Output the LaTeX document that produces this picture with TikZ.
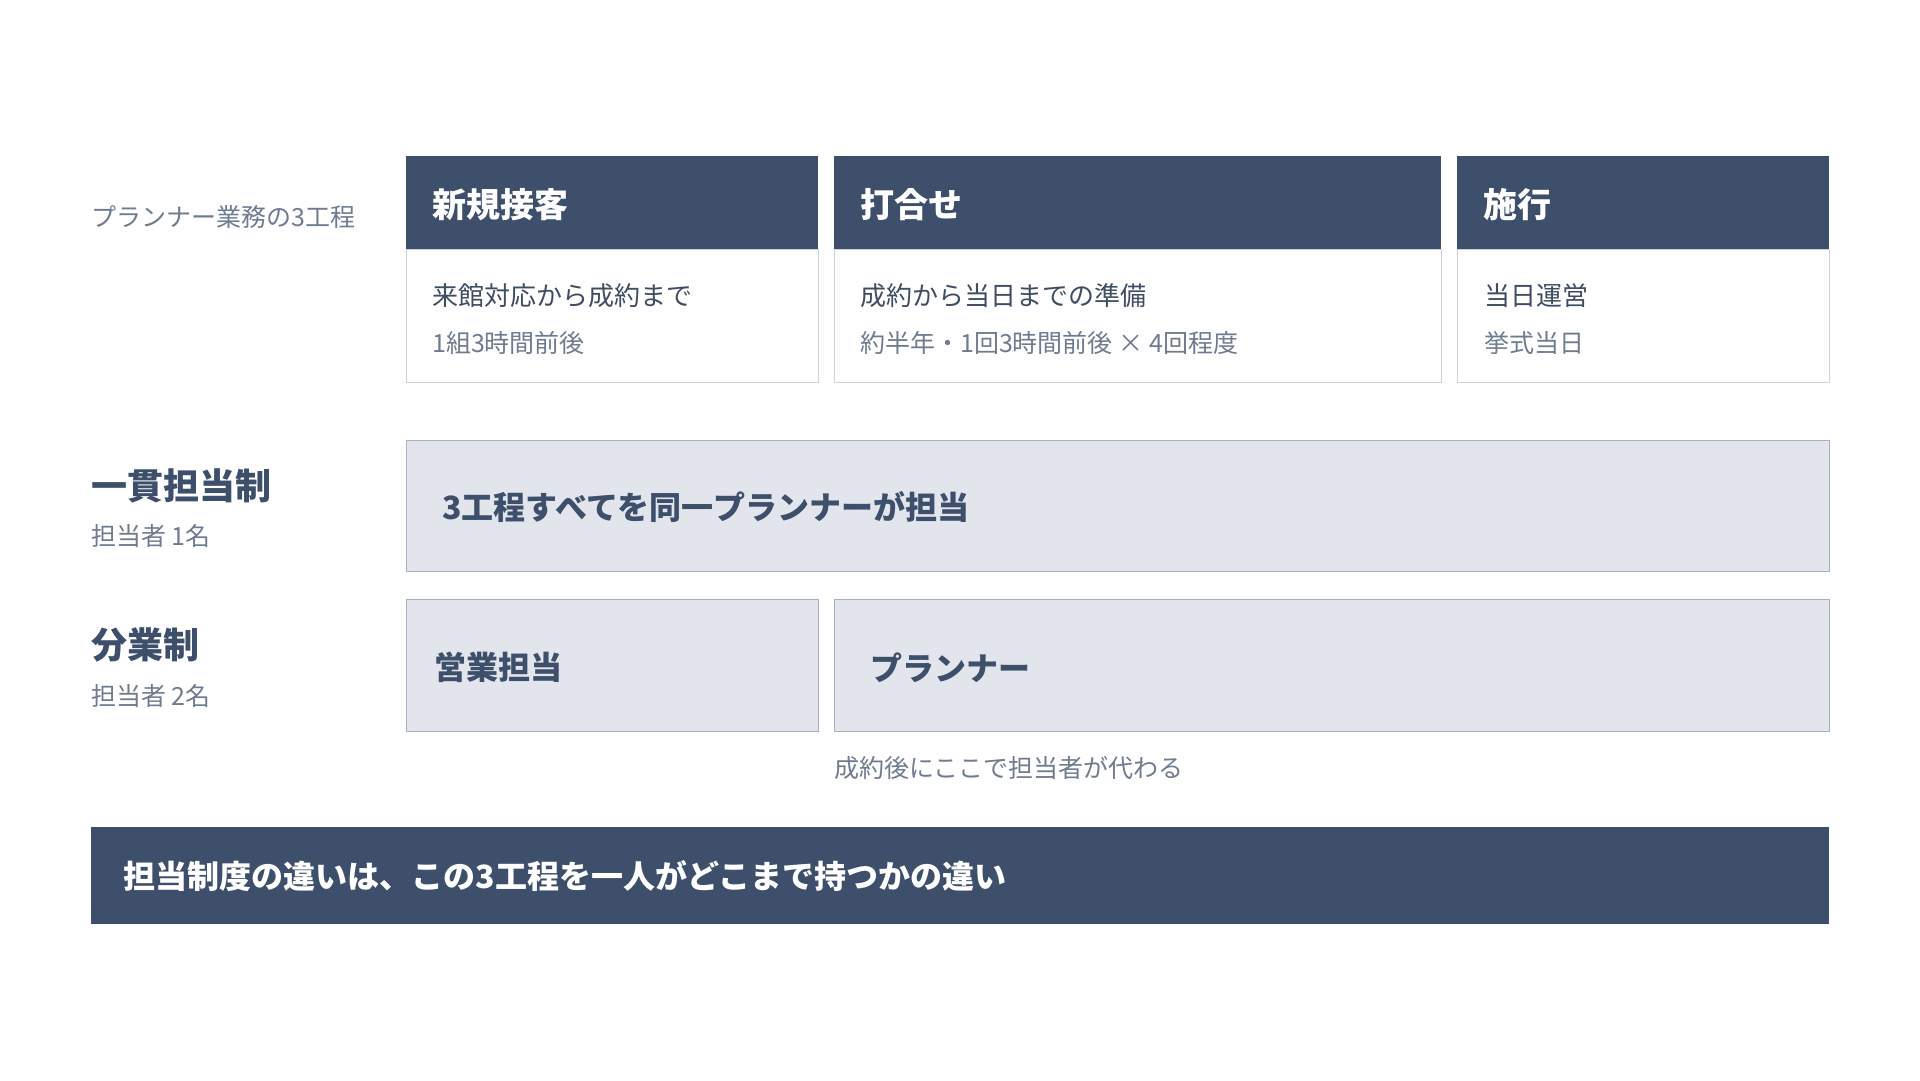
\documentclass[tikz,border=0pt]{standalone}
\usepackage{fontspec}
\setmainfont{Noto Sans CJK JP}
\definecolor{navy}{HTML}{3D4F6A}
\definecolor{ink}{HTML}{3F4D64}
\definecolor{mute}{HTML}{6F7C8F}
\definecolor{pale}{HTML}{E2E6EC}
\definecolor{rim}{HTML}{A7B0BE}
\definecolor{softrim}{HTML}{CDD3DC}
\newcommand{\fs}[1]{\fontsize{#1}{#1}\selectfont}
\begin{document}
\begin{tikzpicture}[x=1pt,y=-1pt,
    txt/.style={anchor=west,inner sep=0pt},
    head/.style={anchor=north west,fill=navy,minimum height=93pt,inner sep=0pt},
    headtxt/.style={txt,text=white,font=\fs{34}\bfseries},
    body/.style={anchor=north west,draw=softrim,fill=white,minimum height=133.5pt,inner sep=0pt},
    band/.style={anchor=north west,draw=rim,fill=pale,inner sep=0pt},
    lead/.style={txt,text=navy,font=\fs{36}\bfseries},
    note/.style={txt,text=mute,font=\fs{25}},
    line/.style={txt,text=ink,font=\fs{26}},
    task/.style={txt,text=navy,font=\fs{32}\bfseries}
  ]
  \useasboundingbox (0,0) rectangle (1920,1080);
  % Three steps.
  \node[note] (steps) at (91,217) {プランナー業務の3工程};
  \node[body,minimum width=412pt] (b1) at (406,248.5) {};
  \node[body,minimum width=607pt] (b2) at (834,248.5) {};
  \node[body,minimum width=372pt] (b3) at (1457,248.5) {};
  \node[head,minimum width=412pt] (h1) at (406,155.5) {};
  \node[head,minimum width=607pt] (h2) at (834,155.5) {};
  \node[head,minimum width=372pt] (h3) at (1457,155.5) {};
  \node[headtxt] (h1t) at (432,204.5) {新規接客};
  \node[headtxt] (h2t) at (860,204.5) {打合せ};
  \node[headtxt] (h3t) at (1483,204.5) {施行};
  \node[line] (b1a) at (432,295.5) {来館対応から成約まで};
  \node[note] (b1b) at (432,343) {1組3時間前後};
  \node[line] (b2a) at (860,295.5) {成約から当日までの準備};
  \node[note] (b2b) at (860,343) {約半年・1回3時間前後 × 4回程度};
  \node[line] (b3a) at (1484,295.5) {当日運営};
  \node[note] (b3b) at (1484,343) {挙式当日};
  % One planner.
  \node[lead] (one) at (91,486) {一貫担当制};
  \node[note] (one1) at (91,536) {担当者 1名};
  \node[band,minimum width=1423pt,minimum height=131pt] (all) at (406,439.5) {};
  \node[task] (allt) at (442,507) {3工程すべてを同一プランナーが担当};
  % Two staff.
  \node[lead] (split) at (91,645) {分業制};
  \node[note] (split2) at (91,695.5) {担当者 2名};
  \node[band,minimum width=412pt,minimum height=132pt] (sales) at (406,599) {};
  \node[band,minimum width=995pt,minimum height=132pt] (plan) at (834,599) {};
  \node[task] (salest) at (434.5,667.5) {営業担当};
  \node[task] (plant) at (870,667.5) {プランナー};
  \node[note] (swap) at (834,768) {成約後にここで担当者が代わる};
  % Summary.
  \node[anchor=north west,fill=navy,minimum width=1738pt,minimum height=97pt,inner sep=0pt] (sum) at (91,826.5) {};
  \node[txt,text=white,font=\fs{32}\bfseries] (sumt) at (123.5,876.5) {担当制度の違いは、この3工程を一人がどこまで持つかの違い};
\end{tikzpicture}
\end{document}
